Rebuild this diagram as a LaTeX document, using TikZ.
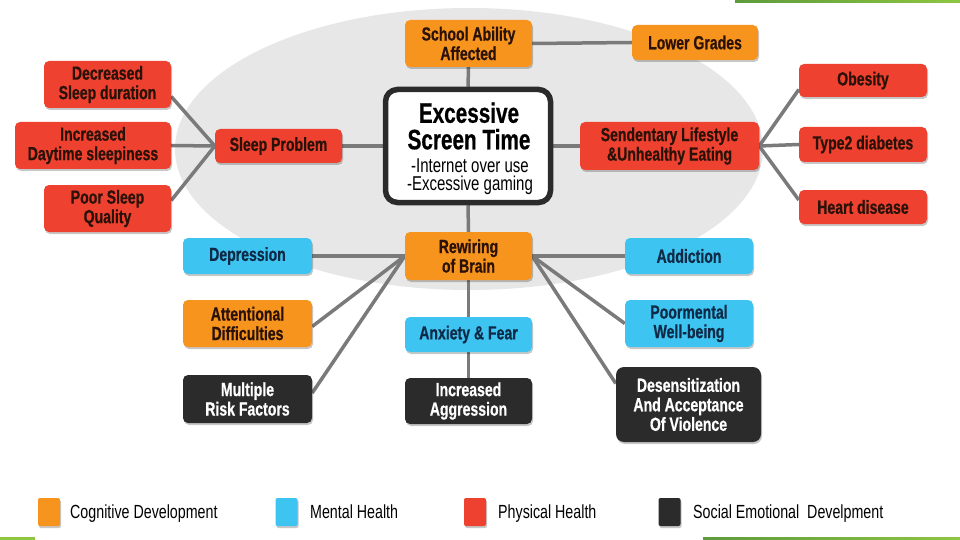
\documentclass[tikz,border=0pt]{standalone}
\usepackage{fontspec}
\setmainfont{Liberation Sans}
\newfontfamily\cond{Liberation Sans}[FakeStretch=0.75]
\newfontfamily\condb{Liberation Sans Bold}[FakeStretch=0.74, FakeBold=0.6]
\usetikzlibrary{shadows}
\definecolor{corange}{HTML}{F7941D}
\definecolor{cred}{HTML}{EF4130}
\definecolor{cblue}{HTML}{3EC4F0}
\definecolor{cblack}{HTML}{2B2B2B}
\definecolor{cline}{HTML}{7A7A7A}
\definecolor{cell}{HTML}{E7E7E7}
\definecolor{tnavy}{HTML}{0E2A47}
\definecolor{tdark}{HTML}{2A1208}
\definecolor{gdark}{HTML}{5E9A3C}
\definecolor{glight}{HTML}{8DC641}
\pgfdeclarelayer{ell}
\pgfdeclarelayer{bg}
\pgfsetlayers{ell,bg,main}
\tikzset{
  box/.style={rounded corners=5pt, align=center, inner sep=0pt,
    font=\condb\fontsize{19}{19.5}\selectfont,
    drop shadow={shadow xshift=1pt, shadow yshift=-2pt, opacity=0.22, fill=black}},
  ob/.style={box, fill=corange, text=tdark},
  rb/.style={box, fill=cred, text=tdark},
  bb/.style={box, fill=cblue, text=tnavy},
  kb/.style={box, fill=cblack, text=white},
  sz/.style 2 args={minimum width=#1pt, minimum height=#2pt},
  link/.style={draw=cline, line width=3.5pt},
  legbox/.style={rounded corners=2pt, minimum width=22pt, minimum height=28pt, inner sep=0pt,
    drop shadow={shadow xshift=1pt, shadow yshift=-2pt, opacity=0.22, fill=black}},
  legtext/.style={anchor=base west, inner sep=0pt, font=\cond\fontsize{19}{20}\selectfont, text=black}
}
\begin{document}
\begin{tikzpicture}[x=1pt,y=-1pt]
\useasboundingbox (0,0) rectangle (960,540);

\begin{pgfonlayer}{ell}
\fill[white] (0,0) rectangle (960,540);
\fill[cell] (469,149) ellipse [x radius=294pt, y radius=141pt];
% decorative green bars
\shade[left color=gdark, right color=glight] (735,0) rectangle (960,3);
\fill[glight] (0,537) rectangle (35,540);
\shade[left color=gdark, right color=glight] (703,537) rectangle (960,540);
\end{pgfonlayer}

% central box
\node[draw=cblack, line width=5.5pt, fill=white, rounded corners=12pt, sz={165}{113}, inner sep=0pt] (central) at (468,146) {};
\node[inner sep=0pt, align=center, font=\condb\fontsize{28}{26.5}\selectfont, text=black] (title) at (469,126) {Excessive\\Screen Time};
\node[inner sep=0pt, align=center, font=\cond\fontsize{20}{18}\selectfont, text=black] (sub) at (470,177) {-Internet over use\\-Excessive gaming};

% cognitive / top
\node[ob, sz={127}{47}] (school) at (468.5,43.5) {School Ability\\Affected};
\node[ob, sz={126}{35}] (lower) at (695,42.5) {Lower Grades};

% sleep
\node[rb, sz={127}{34}] (sleep) at (278.5,146) {Sleep Problem};
\node[rb, sz={127}{47}] (dec) at (107.5,84.5) {Decreased\\Sleep duration};
\node[rb, sz={156}{47}] (inc) at (93,145.5) {Increased\\Daytime sleepiness};
\node[rb, sz={127}{47}] (poor) at (107.5,208.5) {Poor Sleep\\Quality};

% lifestyle
\node[rb, sz={179}{48}] (sed) at (669.5,146) {Sendentary Lifestyle\\\&Unhealthy Eating};
\node[rb, sz={128}{33}] (obes) at (863,80.5) {Obesity};
\node[rb, sz={128}{35}] (type2) at (863,144.5) {Type2 diabetes};
\node[rb, sz={128}{34}] (heart) at (863,207) {Heart disease};

% brain
\node[ob, sz={127}{48}] (rew) at (468.5,256) {Rewiring\\of Brain};
\node[bb, sz={129}{36}] (dep) at (247.5,256) {Depression};
\node[ob, sz={129}{47}] (att) at (247.5,323.5) {Attentional\\Difficulties};
\node[kb, sz={129}{48}] (mult) at (247.5,399) {Multiple\\Risk Factors};
\node[bb, sz={127}{35}] (anx) at (468.5,334.5) {Anxiety \& Fear};
\node[kb, sz={127}{46}] (aggr) at (468.5,401) {Increased\\Aggression};
\node[bb, sz={128}{36}] (addi) at (689,256) {Addiction};
\node[bb, sz={128}{47}] (poorm) at (689,323.5) {Poormental\\Well-being};
\node[kb, sz={145}{75}, rounded corners=8pt] (des) at (688.5,404.5) {Desensitization\\And Acceptance\\Of Violence};

% connectors
\begin{pgfonlayer}{bg}
\draw[link] (school.east) -- (lower.west);
\draw[link] (school.south) -- (central.north);
\draw[link] (central.south) -- (rew.north);
\draw[link] (sleep.east) -- (central.west);
\draw[link] (central.east) -- (sed.west);
\draw[link] (sleep.west) -- ([yshift=-12pt]dec.east);
\draw[link] (sleep.west) -- (inc.east);
\draw[link] (sleep.west) -- ([yshift=8pt]poor.east);
\draw[link] (sed.east) -- ([yshift=-9pt]obes.west);
\draw[link] (sed.east) -- (type2.west);
\draw[link] (sed.east) -- ([yshift=7pt]heart.west);
\draw[link] (rew.west) -- (dep.east);
\draw[link] (rew.west) -- ([yshift=-3pt]att.east);
\draw[link] (rew.west) -- ([yshift=6pt]mult.east);
\draw[link] (rew.east) -- (addi.west);
\draw[link] (rew.east) -- (poorm.west);
\draw[link] (rew.east) -- ([yshift=21pt]des.west);
\draw[link] (rew.south) -- (anx.north);
\draw[link] (anx.south) -- (aggr.north);
\end{pgfonlayer}

% legend
\node[legbox, fill=corange] (lg1) at (49,512) {};
\node[legtext] (lt1) at (70,518) {Cognitive Development};
\node[legbox, fill=cblue] (lg2) at (286.5,512) {};
\node[legtext] (lt2) at (310,518) {Mental Health};
\node[legbox, fill=cred] (lg3) at (475,512) {};
\node[legtext] (lt3) at (498,518) {Physical Health};
\node[legbox, fill=cblack] (lg4) at (669.5,512) {};
\node[legtext] (lt4) at (693,518) {Social Emotional\ \ Develpment};
\end{tikzpicture}
\end{document}
